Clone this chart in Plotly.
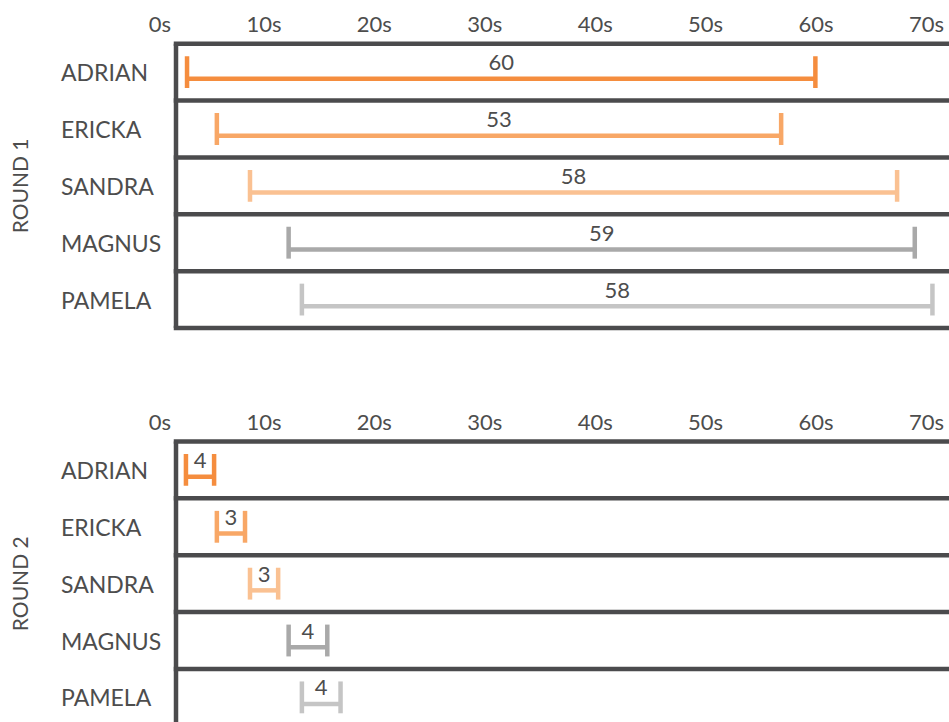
import plotly.graph_objects as go

# ---- data ----
names = ["ADRIAN", "ERICKA", "SANDRA", "MAGNUS", "PAMELA"]
colors = ["#F58D3E", "#F8A766", "#FAC192", "#A9A9A9", "#C5C5C5"]
round1_start = [1.0, 3.7, 6.7, 10.2, 11.4]
round1_end = [57.9, 54.8, 65.3, 66.9, 68.5]
round1_labels = [60, 53, 58, 59, 58]
round2_start = [0.9, 3.7, 6.7, 10.2, 11.4]
round2_end = [3.45, 6.25, 9.25, 13.7, 14.9]
round2_labels = [4, 3, 3, 4, 4]
round_titles = ["ROUND 1", "ROUND 2"]
tick_values = [0, 10, 20, 30, 40, 50, 60, 70]

# ---- style ----
W, H = 949, 722
FONT = "Lato"
WEIGHT = 400
TEXT = "#4D4D4D"
FRAME = "#4B4B4D"
LW = 4.5
x_left_px = 176
cap_half = 0.28
line_off = 0.118
label_off = -0.13

panels = [
    dict(start=round1_start, end=round1_end, labels=round1_labels,
         top=43.7, bottom=328.0, yrange=5.0),
]
row_h = (328.0 - 43.7) / 5
p2_top = 441.5
p2_range = (H - p2_top) / row_h
panels.append(dict(start=round2_start, end=round2_end, labels=round2_labels,
                   top=p2_top, bottom=H, yrange=p2_range))

fig = go.Figure()
shapes = []
annotations = []
layout_axes = {}

for p, pan in enumerate(panels):
    xa = "x" if p == 0 else "x2"
    ya = "y" if p == 0 else "y2"
    xname = "xaxis" if p == 0 else "xaxis2"
    yname = "yaxis" if p == 0 else "yaxis2"
    dom = [max(0.0, 1 - pan["bottom"] / H), 1 - pan["top"] / H]
    layout_axes[xname] = dict(
        domain=[x_left_px / W, 1], range=[0, 70], side="top", anchor=ya,
        tickmode="array", tickvals=tick_values,
        ticktext=[f"{v}s" for v in tick_values],
        ticks="", showline=False, showgrid=False, zeroline=False,
        ticklabelposition="outside left", ticklabelshift=-5,
        ticklabelstandoff=6, automargin=False,
        tickfont=dict(family=FONT, size=22, color=TEXT, weight=WEIGHT),
        fixedrange=True,
    )
    layout_axes[yname] = dict(
        domain=dom, range=[pan["yrange"], 0], anchor=xa,
        showticklabels=False, ticks="", showline=False, showgrid=False,
        zeroline=False, fixedrange=True, automargin=False,
    )
    # frame
    xw = W - x_left_px
    ext = (LW / 2) / xw
    for k in range(6):
        if k <= pan["yrange"] + 1e-9:
            yd = 1 - k / pan["yrange"]
            shapes.append(dict(type="line", xref=f"{xa} domain", yref=f"{ya} domain",
                               x0=-ext, x1=1, y0=yd, y1=yd,
                               line=dict(color=FRAME, width=LW)))
    shapes.append(dict(type="line", xref=f"{xa} domain", yref=f"{ya} domain",
                       x0=0, x1=0, y0=0, y1=1,
                       line=dict(color=FRAME, width=LW)))
    # bars
    for i, nm in enumerate(names):
        yc = i + 0.5
        s, e = pan["start"][i], pan["end"][i]
        xs = [s, s, None, s, e, None, e, e]
        ys = [yc - cap_half, yc + cap_half, None,
              yc + line_off, yc + line_off, None,
              yc - cap_half, yc + cap_half]
        fig.add_trace(go.Scatter(x=xs, y=ys, xaxis=xa, yaxis=ya, mode="lines",
                                 line=dict(color=colors[i], width=LW),
                                 connectgaps=False, showlegend=False,
                                 hoverinfo="skip"))
        fig.add_trace(go.Scatter(x=[(s + e) / 2], y=[yc + label_off],
                                 xaxis=xa, yaxis=ya, mode="text",
                                 text=[str(pan["labels"][i])],
                                 textposition="middle center",
                                 textfont=dict(family=FONT, size=22, color=TEXT,
                                               weight=WEIGHT),
                                 showlegend=False, hoverinfo="skip",
                                 cliponaxis=False))
        annotations.append(dict(text=nm, xref="paper", yref=ya, x=59.3 / W,
                                y=yc, xanchor="left", yanchor="middle",
                                showarrow=False,
                                font=dict(family=FONT, size=23, color=TEXT,
                                          weight=WEIGHT)))
    annotations.append(dict(text=round_titles[p], xref="paper", yref=ya,
                            x=19.5 / W, y=2.5, xanchor="center", yanchor="middle",
                            textangle=-90, showarrow=False,
                            font=dict(family=FONT, size=21, color=TEXT,
                                      weight=WEIGHT)))

fig.update_layout(
    width=W, height=H, margin=dict(l=0, r=0, t=0, b=0, autoexpand=False),
    paper_bgcolor="white", plot_bgcolor="white",
    shapes=shapes, annotations=annotations, showlegend=False,
    **layout_axes,
)

fig.write_html("out.html", config={"displayModeBar": False})
